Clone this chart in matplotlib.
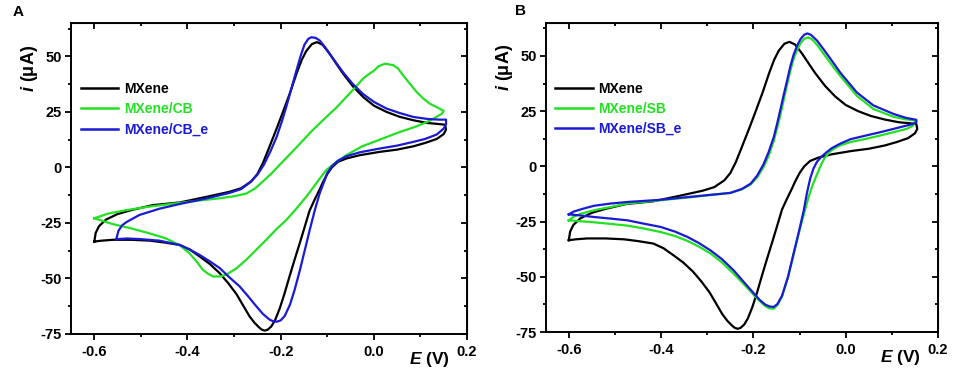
import matplotlib
matplotlib.use('Agg')
import matplotlib.pyplot as plt
from matplotlib.ticker import MultipleLocator

plt.rcParams['font.family'] = ['Liberation Sans', 'DejaVu Sans']
plt.rcParams['font.weight'] = 'bold'
plt.rcParams['mathtext.fontset'] = 'custom'
plt.rcParams['mathtext.rm'] = 'Liberation Sans:bold'
plt.rcParams['mathtext.bf'] = 'Liberation Sans:bold'
plt.rcParams['mathtext.it'] = 'Liberation Sans:italic:bold'

# ---- data (E in V, i in uA), closed CV loops ----
# bare MXene (same curve in both panels)
mx_E = [-0.600, -0.597, -0.590, -0.575, -0.550, -0.520, -0.475, -0.417, -0.360, -0.310,
        -0.285, -0.263, -0.250, -0.238, -0.224, -0.208, -0.195, -0.180, -0.166, -0.155,
        -0.145, -0.133, -0.122, -0.110, -0.095, -0.080, -0.066, -0.045, -0.023, 0.000,
        0.027, 0.055, 0.085, 0.115, 0.140, 0.153,
        0.155, 0.150, 0.135, 0.110, 0.085, 0.050, 0.013, -0.030, -0.059, -0.077,
        -0.090, -0.100, -0.110, -0.116, -0.127, -0.138, -0.148, -0.159, -0.170, -0.181,
        -0.192, -0.202, -0.212, -0.220, -0.228, -0.234, -0.240, -0.245, -0.256, -0.267,
        -0.281, -0.295, -0.313, -0.331, -0.352, -0.374, -0.395, -0.417, -0.450, -0.480,
        -0.520, -0.560, -0.585, -0.600]
mx_i = [-33.4, -29.5, -26.5, -23.5, -21.0, -19.2, -17.0, -15.8, -13.3, -11.0,
        -9.4, -6.3, -3.0, 2.0, 9.3, 17.8, 25.0, 33.5, 42.2, 48.3,
        52.4, 55.5, 56.4, 55.2, 51.2, 46.5, 42.2, 36.5, 31.7, 27.8,
        25.0, 22.8, 21.2, 20.0, 19.5, 19.2,
        17.0, 15.0, 12.8, 11.0, 9.5, 8.0, 7.0, 5.5, 4.0, 2.5,
        0.0, -3.0, -7.0, -9.8, -14.5, -19.5, -26.5, -34.1, -41.5, -49.1,
        -57.0, -63.5, -68.8, -71.6, -73.1, -73.5, -73.1, -72.3, -70.0, -67.0,
        -62.0, -57.0, -52.0, -47.6, -43.5, -40.1, -37.0, -34.9, -33.8, -33.0,
        -32.6, -32.6, -33.0, -33.4]

# MXene/CB
cb_E = [-0.600, -0.570, -0.530, -0.480, -0.417, -0.370, -0.330, -0.300, -0.274, -0.255,
        -0.238, -0.220, -0.202, -0.166, -0.135, -0.102, -0.080, -0.059, -0.040, -0.023,
        -0.012, 0.000, 0.010, 0.024, 0.042, 0.052, 0.063, 0.078, 0.092, 0.106,
        0.120, 0.138, 0.150,
        0.145, 0.120, 0.092, 0.050, 0.013, -0.025, -0.059, -0.080, -0.102, -0.116,
        -0.130, -0.145, -0.166, -0.188, -0.210, -0.231, -0.252, -0.274, -0.295, -0.317,
        -0.330, -0.345, -0.355, -0.367, -0.380, -0.396, -0.417, -0.446, -0.480, -0.520,
        -0.561, -0.600]
cb_i = [-22.9, -20.8, -19.2, -17.6, -16.0, -14.8, -13.9, -13.0, -11.8, -9.5,
        -6.3, -2.8, 1.2, 9.0, 16.0, 22.7, 27.0, 31.7, 36.0, 40.0,
        41.8, 43.5, 45.5, 46.7, 46.0, 44.5, 41.4, 37.5, 33.9, 31.0,
        28.7, 26.8, 25.4,
        24.0, 21.0, 18.5, 15.5, 12.5, 9.5, 5.5, 2.5, -1.2, -5.0,
        -9.0, -13.2, -18.5, -23.7, -28.0, -32.6, -37.0, -41.6, -45.5, -48.3,
        -49.1, -49.1, -48.0, -46.1, -42.5, -38.6, -35.0, -32.0, -29.8, -27.5,
        -25.5, -22.9]

# MXene/CB_e
cbe_E = [-0.553, -0.548, -0.540, -0.530, -0.503, -0.460, -0.417, -0.360, -0.310, -0.285,
         -0.266, -0.250, -0.236, -0.222, -0.209, -0.198, -0.188, -0.177, -0.166, -0.157,
         -0.149, -0.141, -0.134, -0.125, -0.116, -0.105, -0.095, -0.080, -0.066, -0.045,
         -0.023, 0.000, 0.027, 0.055, 0.085, 0.115, 0.140, 0.155,
         0.155, 0.150, 0.135, 0.110, 0.085, 0.050, 0.013, -0.030, -0.059, -0.077,
         -0.090, -0.100, -0.105, -0.116, -0.127, -0.138, -0.148, -0.159, -0.170, -0.180,
         -0.191, -0.200, -0.209, -0.217, -0.224, -0.238, -0.252, -0.270, -0.288, -0.310,
         -0.331, -0.352, -0.374, -0.395, -0.417, -0.460, -0.500, -0.530, -0.553]
cbe_i = [-32.3, -28.5, -26.0, -24.5, -21.4, -18.6, -16.5, -14.0, -11.5, -9.8,
         -6.8, -3.3, 1.2, 7.2, 13.5, 20.3, 27.2, 35.5, 43.7, 50.3,
         55.2, 57.8, 58.6, 58.3, 57.1, 54.2, 51.2, 46.8, 42.8, 37.5,
         33.0, 29.5, 26.5, 24.5, 22.7, 21.8, 21.5, 21.5,
         19.5, 17.5, 14.8, 12.8, 11.5, 9.8, 8.5, 6.8, 5.0, 3.0,
         0.5, -2.5, -5.5, -11.5, -19.5, -28.5, -37.1, -46.5, -55.1, -61.8,
         -66.8, -68.9, -69.5, -69.2, -68.5, -66.0, -62.6, -58.0, -53.6, -49.5,
         -45.3, -42.3, -39.4, -37.0, -34.9, -33.0, -32.3, -32.0, -32.3]

# MXene/SB
sb_E = [-0.600, -0.590, -0.574, -0.540, -0.509, -0.473, -0.401, -0.343, -0.290, -0.250,
        -0.225, -0.206, -0.192, -0.178, -0.167, -0.156, -0.149, -0.142, -0.135, -0.127,
        -0.120, -0.113, -0.105, -0.097, -0.090, -0.082, -0.074, -0.062, -0.048, -0.034,
        -0.012, 0.024, 0.060, 0.103, 0.130, 0.153,
        0.145, 0.132, 0.100, 0.075, 0.040, 0.010, -0.015, -0.034, -0.045, -0.053,
        -0.060, -0.070, -0.080, -0.091, -0.102, -0.113, -0.125, -0.138, -0.148, -0.157,
        -0.166, -0.174, -0.186, -0.199, -0.220, -0.243, -0.268, -0.293, -0.318, -0.343,
        -0.370, -0.401, -0.440, -0.473, -0.510, -0.545, -0.575, -0.600]
sb_i = [-24.4, -22.8, -21.4, -19.6, -18.4, -16.8, -15.3, -14.1, -12.9, -12.0,
        -10.4, -8.2, -5.0, -0.3, 4.8, 11.5, 17.0, 23.0, 29.5, 37.0,
        43.3, 48.6, 53.0, 56.0, 57.7, 58.4, 57.7, 55.0, 51.0, 47.0,
        41.0, 32.0, 26.0, 22.5, 21.3, 20.8,
        18.3, 17.0, 15.3, 14.0, 12.3, 11.0, 9.3, 6.8, 4.0, 1.0,
        -2.5, -7.5, -13.5, -21.8, -30.5, -40.0, -50.0, -59.0, -62.8, -64.5,
        -64.2, -63.3, -61.0, -58.2, -53.5, -48.5, -43.5, -39.4, -36.3, -33.7,
        -31.5, -29.7, -28.0, -26.8, -26.0, -25.3, -24.8, -24.4]

# MXene/SB_e
sbe_E = [-0.600, -0.590, -0.570, -0.545, -0.509, -0.473, -0.401, -0.343, -0.290, -0.250,
         -0.225, -0.206, -0.192, -0.178, -0.167, -0.156, -0.149, -0.142, -0.135, -0.127,
         -0.120, -0.113, -0.105, -0.098, -0.090, -0.083, -0.075, -0.062, -0.048, -0.034,
         -0.012, 0.024, 0.060, 0.103, 0.130, 0.153,
         0.153, 0.145, 0.132, 0.100, 0.075, 0.040, 0.010, -0.012, -0.030, -0.041,
         -0.052, -0.062, -0.070, -0.077, -0.084, -0.091, -0.102, -0.113, -0.125, -0.138,
         -0.148, -0.156, -0.165, -0.174, -0.186, -0.199, -0.220, -0.243, -0.268, -0.293,
         -0.318, -0.343, -0.370, -0.401, -0.440, -0.473, -0.510, -0.545, -0.575, -0.600]
sbe_i = [-21.7, -20.5, -19.2, -17.8, -16.8, -16.1, -15.1, -13.9, -12.8, -12.0,
         -10.2, -7.8, -4.2, 1.0, 6.5, 13.2, 19.0, 25.3, 31.8, 38.9,
         45.3, 50.5, 54.8, 57.6, 59.6, 60.2, 59.5, 56.9, 53.0, 49.0,
         42.5, 33.5, 27.6, 23.8, 22.0, 21.1,
         20.0, 19.2, 18.5, 16.8, 15.5, 13.8, 12.3, 10.3, 8.3, 6.5,
         4.5, 2.2, -1.0, -5.5, -12.0, -20.0, -30.0, -39.4, -50.0, -58.5,
         -62.3, -63.6, -63.4, -62.6, -60.5, -57.5, -52.5, -47.0, -42.0, -38.0,
         -34.7, -31.9, -29.5, -27.4, -25.8, -24.4, -23.6, -22.9, -22.2, -21.7]

labels_A = ['MXene', 'MXene/CB', 'MXene/CB_e']
labels_B = ['MXene', 'MXene/SB', 'MXene/SB_e']
colors = ['black', '#22e022', '#1a1ad6']

fig = plt.figure(figsize=(9.57, 3.74), dpi=100)
axA = fig.add_axes([0.0742, 0.107, 0.4138, 0.8315])
axB = fig.add_axes([0.5702, 0.112, 0.4100, 0.8270])

panels = [
    (axA, 'A', [(mx_E, mx_i), (cb_E, cb_i), (cbe_E, cbe_i)], labels_A),
    (axB, 'B', [(mx_E, mx_i), (sb_E, sb_i), (sbe_E, sbe_i)], labels_B),
]

for ax, tag, curves, labels in panels:
    for (E, i), lab, c in zip(curves, labels, colors):
        ax.plot(E, i, color=c, lw=1.6, label=lab, solid_joinstyle='round')
    ax.set_xlim(-0.65, 0.2)
    ax.set_ylim(-75, 65)
    ax.xaxis.set_minor_locator(MultipleLocator(0.1))
    ax.yaxis.set_minor_locator(MultipleLocator(12.5))
    ax.set_xticks([-0.6, -0.4, -0.2, 0.0, 0.2])
    ax.set_xticklabels(['-0.6', '-0.4', '-0.2', '0.0', '0.2'])
    ax.set_yticks([-75, -50, -25, 0, 25, 50])
    ax.set_yticklabels(['-75', '-50', '-25', '0', '25', '50'])
    ax.tick_params(which='both', direction='out', width=1.3, labelsize=10.5)
    ax.tick_params(which='major', length=4)
    ax.tick_params(which='minor', length=2.5)
    ax.tick_params(axis='x', pad=4)
    ax.tick_params(axis='y', pad=2.5)
    for s in ax.spines.values():
        s.set_linewidth(1.4)
    # inward ticks on the top and right sides
    top = ax.secondary_xaxis('top')
    top.xaxis.set_major_locator(MultipleLocator(0.2))
    top.xaxis.set_minor_locator(MultipleLocator(0.1))
    top.tick_params(which='both', direction='in', width=1.3, labeltop=False)
    top.tick_params(which='major', length=4)
    top.tick_params(which='minor', length=2.5)
    right = ax.secondary_yaxis('right')
    right.yaxis.set_major_locator(MultipleLocator(25))
    right.yaxis.set_minor_locator(MultipleLocator(12.5))
    right.tick_params(which='both', direction='in', width=1.3, labelright=False)
    right.tick_params(which='major', length=4)
    right.tick_params(which='minor', length=2.5)

    leg = ax.legend(loc='upper left', bbox_to_anchor=(0.025, 0.81), frameon=False,
                    handlelength=2.7, handletextpad=0.4, labelspacing=0.45,
                    borderpad=0, borderaxespad=0,
                    prop={'weight': 'bold', 'size': 10}, labelcolor='linecolor')
    for h in leg.legend_handles:
        h.set_linewidth(1.8)

    ax.text(-0.105, 0.855, r'$\mathit{i}$ (μA)', transform=ax.transAxes, rotation=90,
            ha='center', va='center', fontsize=13, fontweight='bold')
    ax.text(0.905, -0.082, r'$\mathit{E}$ (V)', transform=ax.transAxes,
            ha='center', va='center', fontsize=12.5, fontweight='bold')

fig.text(18 / 957, 1 - 12 / 374, 'A', ha='center', va='center', fontsize=11, fontweight='bold')
fig.text(521 / 957, 1 - 11 / 374, 'B', ha='center', va='center', fontsize=11, fontweight='bold')

fig.savefig('out.png', dpi=100)
